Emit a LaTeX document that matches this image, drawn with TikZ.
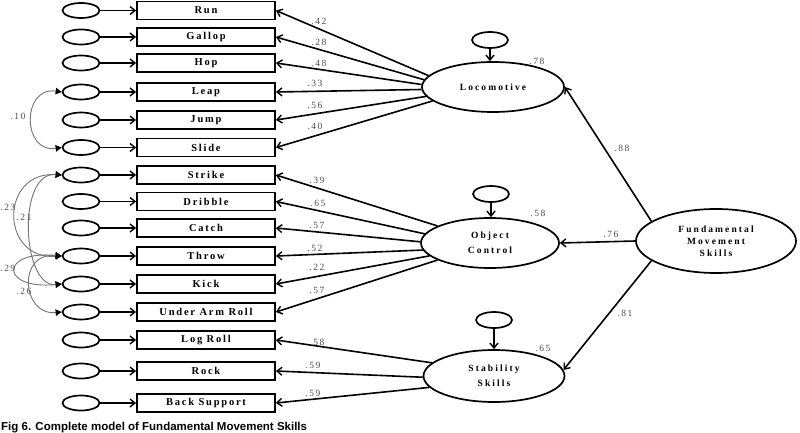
\documentclass[tikz,border=0pt]{standalone}
\usepackage{fontspec}
\setmainfont{Liberation Serif}
\newfontfamily\lblfont[LetterSpace=17]{Liberation Serif}
\newfontfamily\latfont[LetterSpace=22]{Liberation Serif}
\newfontfamily\numfont[LetterSpace=14]{Liberation Serif}
\newfontfamily\capfont{Liberation Sans}
\usetikzlibrary{shapes.geometric,arrows.meta}
\begin{document}
\begin{tikzpicture}[x=1pt,y=-1pt,
  obs/.style={draw, line width=1.8pt, minimum width=138pt, minimum height=18pt, inner sep=0pt,
    font=\lblfont\bfseries\fontsize{10.5}{11}\selectfont},
  err/.style={ellipse, draw, line width=1.7pt, minimum width=37pt, minimum height=15pt, inner sep=0pt},
  res/.style={ellipse, draw, line width=1.7pt, minimum width=36pt, minimum height=16pt, inner sep=0pt},
  lat/.style={ellipse, draw, line width=1.7pt, inner sep=0pt, align=center,
    font=\latfont\bfseries\fontsize{9.5}{15}\selectfont},
  pth/.style={line width=1.6pt, -{Straight Barb[length=5pt,width=8pt,line width=1.4pt]}},
  cov/.style={draw=black!55, line width=0.9pt, {Triangle[length=6pt,width=6.5pt,fill=black,color=black]}-{Triangle[length=6pt,width=6.5pt,fill=black,color=black]}},
  num/.style={font=\numfont\fontsize{9.5}{10}\selectfont, text=black!70, inner sep=0pt}
]
\useasboundingbox (0,0) rectangle (800,433);

\foreach \n/\y/\t in {run/10.5/Run, gal/37/Gallop, hop/63/Hop, lea/92/Leap, jum/120/Jump,
  sli/147.5/Slide, str/175/Strike, dri/201.5/Dribble, cat/228/Catch, thr/256/Throw,
  kic/284/Kick, uar/312/Under Arm Roll, log/340/Log Roll, rck/371/Rock, bac/403/Back Support}{
  \node[obs] (\n) at (206,\y) {\t};
  \node[err] (e\n) at (81,\y) {};
  \draw[pth] (e\n.east) -- (\n.west);
}

% latent variables
\node[lat, minimum width=142pt, minimum height=50pt] (loc) at (493,87) {Locomotive};
\node[lat, minimum width=138pt, minimum height=50pt] (oc) at (490,243) {Object\\Control};
\node[lat, minimum width=141pt, minimum height=52pt] (stab) at (494,376) {Stability\\Skills};
\node[lat, minimum width=160pt, minimum height=64pt, font=\latfont\bfseries\fontsize{9.5}{12}\selectfont] (fms) at (716,241) {Fundamental\\Movement\\Skills};

% residuals
\node[res] (rloc) at (490,40) {};
\node[res] (rocl) at (491,194) {};
\node[res] (rstab) at (494,320) {};
\draw[pth] (rloc.south) -- (loc.north -| rloc.south);
\draw[pth] (rocl.south) -- (oc.north -| rocl.south);
\draw[pth] (rstab.south) -- (stab.north -| rstab.south);
\node[num] (l78) at (537,61) {.78};
\node[num] (l58) at (538,213) {.58};
\node[num] (l65) at (543,348) {.65};

% loadings
\foreach \n/\a/\v/\lx/\ly in {run/170/.42/319/21, gal/174/.28/319/42, hop/178/.48/319/63,
  lea/182/.33/315/83, jum/188/.56/315/105, sli/193/.40/315/126}{
  \draw[pth] (loc.\a) -- (\n.east);
  \node[num] at (\lx,\ly) {\v};
}
\foreach \n/\a/\v/\lx/\ly in {str/162/.39/317/180, dri/172/.65/318/203, cat/179/.57/317/225,
  thr/186/.52/315/248, kic/192/.22/317/267, uar/198/.57/317/290}{
  \draw[pth] (oc.\a) -- (\n.east);
  \node[num] at (\lx,\ly) {\v};
}
\foreach \n/\a/\v/\lx/\ly in {log/168/.58/317/342, rck/181/.59/313/365, bac/190/.59/313/393}{
  \draw[pth] (stab.\a) -- (\n.east);
  \node[num] at (\lx,\ly) {\v};
}

% second order
\draw[pth] (fms.163) -- (loc.east);
\draw[pth] (fms.west) -- (oc.east);
\draw[pth] (fms.197) -- (stab.5);
\node[num] (l88) at (622,148) {.88};
\node[num] (l76) at (611,234) {.76};
\node[num] (l81) at (625,313) {.81};

% covariances
\draw[cov] (elea.west) .. controls +(-40,-6) and +(-40,6) .. (esli.west);
\draw[cov] (estr.west) .. controls +(-62,-4) and +(-62,4) .. (ethr.west);
\draw[cov] (estr.west) .. controls +(-45,-4) and +(-40,4) .. (ekic.west);
\draw[cov] (ethr.west) .. controls +(-62,-6) and +(-62,6) .. (ekic.west);
\draw[cov] (ethr.west) .. controls +(-45,-4) and +(-40,4) .. (euar.west);
\node[num] (c10) at (18,116) {.10};
\node[num, anchor=west] (c23) at (0.5,207) {.23};
\node[num] (c21) at (24,217) {.21};
\node[num, anchor=west] (c29) at (0.5,268) {.29};
\node[num] (c26) at (24,291) {.26};

% caption
\node[anchor=base west, inner sep=0pt, font=\capfont\bfseries\fontsize{11.5}{13}\selectfont] (cap) at (1,430) {Fig 6. Complete model of Fundamental Movement Skills};
\end{tikzpicture}
\end{document}
